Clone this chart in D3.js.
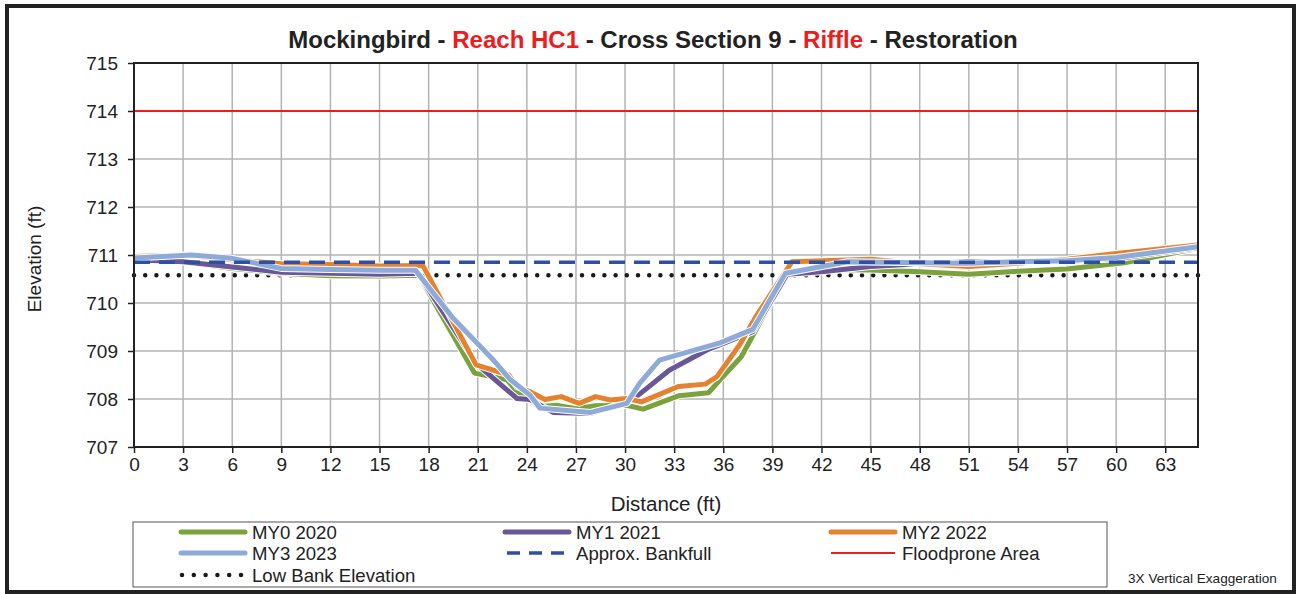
<!DOCTYPE html>
<html>
<head>
<meta charset="utf-8">
<script src="https://cdn.jsdelivr.net/npm/d3@7"></script>
<style>
	body { margin: 0; background: #fff; }
	svg { display: block; font-family: "Liberation Sans", Arial, sans-serif; }
</style>
</head>
<body>
<svg id="chart" width="1296" height="594"></svg>
<script>
// survey points
var my0Dist = [0, 3, 6, 9, 12, 15, 17.4, 20.8, 22.8, 23.4, 24.8, 25.8, 27.0, 28.2, 30.1, 31.1, 33.3, 35.1, 35.8, 37.1, 37.9, 39.9, 42, 45, 48, 51, 54, 57, 60.5, 65]
var my0Elev = [710.90, 710.86, 710.72, 710.62, 710.57, 710.56, 710.58, 708.54, 708.40, 708.15, 707.84, 707.87, 707.80, 707.86, 707.87, 707.79, 708.07, 708.13, 708.40, 708.88, 709.38, 710.65, 710.70, 710.69, 710.65, 710.60, 710.66, 710.71, 710.84, 711.14]

var my1Dist = [0, 3, 6, 9, 12, 15, 17.35, 20.9, 23.4, 24.2, 25.6, 27.9, 30.1, 30.7, 32.7, 35.0, 37.8, 39.9, 42, 45, 48, 51, 54, 57, 60, 65]
var my1Elev = [710.90, 710.86, 710.75, 710.64, 710.62, 710.60, 710.62, 708.74, 708.01, 707.99, 707.72, 707.70, 707.92, 708.05, 708.60, 709.02, 709.40, 710.60, 710.65, 710.76, 710.82, 710.86, 710.86, 710.87, 710.92, 711.15]

var my2Dist = [0, 3, 6, 9, 12, 15, 17.65, 20.9, 22.9, 23.4, 24.2, 25.1, 26.1, 27.2, 28.2, 29.1, 30.1, 31.0, 33.25, 34.9, 35.6, 37.0, 38.0, 40.2, 45, 48, 51, 54, 57, 60, 65]
var my2Elev = [710.97, 711.00, 710.90, 710.82, 710.80, 710.77, 710.78, 708.71, 708.50, 708.26, 708.15, 707.99, 708.05, 707.91, 708.05, 707.98, 708.01, 707.94, 708.26, 708.31, 708.46, 709.13, 709.72, 710.86, 710.91, 710.82, 710.76, 710.83, 710.91, 711.03, 711.21]

var my3Dist = [0, 3.5, 6, 9, 12, 15, 17.2, 19.5, 21.85, 23.0, 24.2, 24.8, 27.9, 30.1, 30.9, 32.1, 35.8, 37.8, 39.8, 43.6, 48, 51, 54, 57, 60, 65]
var my3Elev = [710.94, 711.00, 710.93, 710.72, 710.70, 710.68, 710.68, 709.68, 708.85, 708.40, 708.08, 707.81, 707.72, 707.91, 708.33, 708.81, 709.17, 709.45, 710.62, 710.86, 710.84, 710.83, 710.86, 710.88, 710.95, 711.17]

var bankfullElev = 710.85
var lowBankElev = 710.58
var floodproneElev = 714

var xTicks = d3.range(0, 64, 3)
var yTicks = [707, 708, 709, 710, 711, 712, 713, 714, 715]

var seriesNames = ["MY0 2020", "MY1 2021", "MY2 2022", "MY3 2023"]
var seriesColors = ["#7ba23f", "#6a5797", "#e5822f", "#8eaad8"]

var svg = d3.select("#chart")
var ink = "#222"

// outer frame
svg.append("rect")
	.attr("x", 7).attr("y", 6)
	.attr("width", 1287).attr("height", 586)
	.attr("fill", "#fff")
	.attr("stroke", "#222")
	.attr("stroke-width", 4)

var plotL = 134, plotT = 63, plotR = 1198, plotB = 447

var x = d3.scaleLinear().domain([0, 65]).range([plotL, plotR])
var y = d3.scaleLinear().domain([707, 715]).range([plotB, plotT])

// grid
svg.append("g").selectAll("line")
	.data(xTicks.filter(function(d){ return d > 0 }))
	.enter().append("line")
	.attr("x1", function(d){ return x(d) }).attr("x2", function(d){ return x(d) })
	.attr("y1", plotT).attr("y2", plotB)
	.attr("stroke", "#b3b3b3").attr("stroke-width", 1.5)
svg.append("g").selectAll("line")
	.data(yTicks.filter(function(d){ return d > 707 && d < 715 }))
	.enter().append("line")
	.attr("x1", plotL).attr("x2", plotR)
	.attr("y1", function(d){ return y(d) }).attr("y2", function(d){ return y(d) })
	.attr("stroke", "#b3b3b3").attr("stroke-width", 1.5)

// axes
var xAxis = svg.append("g")
	.attr("transform", "translate(0," + plotB + ")")
	.call(d3.axisBottom(x).tickValues(xTicks).tickSize(6).tickPadding(5))
var yAxis = svg.append("g")
	.attr("transform", "translate(" + plotL + ",0)")
	.call(d3.axisLeft(y).tickValues(yTicks).tickSize(6).tickPadding(10))
xAxis.select(".domain").remove()
yAxis.select(".domain").remove()
svg.selectAll(".tick line").attr("stroke", ink).attr("stroke-width", 1.5)
svg.selectAll(".tick text")
	.attr("fill", ink)
	.style("font-size", "19px")
	.style("font-family", "Liberation Sans, Arial, sans-serif")

var line = d3.line()
	.x(function(d){ return x(d[0]) })
	.y(function(d){ return y(d[1]) })

function flat(elev) {
	return [[0, elev], [65, elev]]
}

// floodprone
svg.append("path")
	.attr("d", line(flat(floodproneElev)))
	.attr("fill", "none").attr("stroke", "#ee1c1c").attr("stroke-width", 2)

// low bank (dots)
svg.append("path")
	.attr("d", line(flat(lowBankElev)))
	.attr("fill", "none").attr("stroke", "#1a1a1a")
	.attr("stroke-width", 4.5).attr("stroke-linecap", "round")
	.attr("stroke-dasharray", "0 11.2")

// survey lines
var seriesData = [
	d3.zip(my0Dist, my0Elev),
	d3.zip(my1Dist, my1Elev),
	d3.zip(my2Dist, my2Elev),
	d3.zip(my3Dist, my3Elev)
]
seriesData.forEach(function(pts, i) {
	svg.append("path")
		.attr("d", line(pts))
		.attr("fill", "none").attr("stroke", "#fff")
		.attr("stroke-width", 7).attr("stroke-linejoin", "round")
	svg.append("path")
		.attr("d", line(pts))
		.attr("fill", "none").attr("stroke", seriesColors[i])
		.attr("stroke-width", 5).attr("stroke-linejoin", "round")
})

// bankfull (dashes)
svg.append("path")
	.attr("d", line(flat(bankfullElev)))
	.attr("fill", "none").attr("stroke", "#2f4fa3")
	.attr("stroke-width", 3.5)
	.attr("stroke-dasharray", "16 9")

// plot border
svg.append("rect")
	.attr("x", plotL).attr("y", plotT)
	.attr("width", plotR - plotL).attr("height", plotB - plotT)
	.attr("fill", "none").attr("stroke", ink).attr("stroke-width", 2)

// title
var title = svg.append("text")
	.attr("x", 653).attr("y", 48)
	.attr("text-anchor", "middle")
	.style("font-size", "24px").style("font-weight", "bold")
	.attr("fill", ink)
var parts = [["Mockingbird - ", ink], ["Reach HC1", "#ee1c1c"], [" - Cross Section 9 - ", ink], ["Riffle", "#ee1c1c"], [" - Restoration", ink]]
parts.forEach(function(p) {
	title.append("tspan").attr("fill", p[1]).text(p[0])
})

// axis titles
svg.append("text")
	.attr("x", 666).attr("y", 511)
	.attr("text-anchor", "middle")
	.attr("fill", ink).style("font-size", "20.5px")
	.text("Distance (ft)")
svg.append("text")
	.attr("transform", "translate(41,259) rotate(-90)")
	.attr("text-anchor", "middle")
	.attr("fill", ink).style("font-size", "19px")
	.text("Elevation (ft)")

// legend
svg.append("rect")
	.attr("x", 133).attr("y", 522)
	.attr("width", 974).attr("height", 65)
	.attr("fill", "#fff").attr("stroke", "#555").attr("stroke-width", 1)

var legendItems = [
	{ name: seriesNames[0], color: seriesColors[0], kind: "solid" },
	{ name: seriesNames[1], color: seriesColors[1], kind: "solid" },
	{ name: seriesNames[2], color: seriesColors[2], kind: "solid" },
	{ name: seriesNames[3], color: seriesColors[3], kind: "solid" },
	{ name: "Approx. Bankfull", color: "#2f4fa3", kind: "dash" },
	{ name: "Floodprone Area", color: "#ee1c1c", kind: "thin" },
	{ name: "Low Bank Elevation", color: "#1a1a1a", kind: "dot" }
]
var colX = [181, 505, 831]
var rowY = [532, 553, 575]

legendItems.forEach(function(item, i) {
	var cx = colX[i % 3], cy = rowY[Math.floor(i / 3)]
	var g = svg.append("g")
	var l = g.append("line")
		.attr("x1", cx).attr("x2", cx + 64)
		.attr("y1", cy).attr("y2", cy)
		.attr("stroke", item.color)
	if (item.kind == "solid") {
		l.attr("stroke-width", 5).attr("stroke-linecap", "round")
	} else if (item.kind == "dash") {
		l.attr("x1", cx + 2).attr("stroke-width", 3.5).attr("stroke-dasharray", "13 9")
	} else if (item.kind == "thin") {
		l.attr("stroke-width", 2)
	} else {
		l.attr("x1", cx + 1).attr("x2", cx + 60.5)
			.attr("stroke-width", 4.5).attr("stroke-linecap", "round").attr("stroke-dasharray", "0 11.8")
	}
	g.append("text")
		.attr("x", cx + 71).attr("y", cy + 6.5)
		.attr("fill", ink).style("font-size", "18.6px")
		.text(item.name)
})

svg.append("text")
	.attr("x", 1128).attr("y", 583)
	.attr("fill", ink).style("font-size", "13.6px")
	.text("3X Vertical Exaggeration")
</script>
</body>
</html>
